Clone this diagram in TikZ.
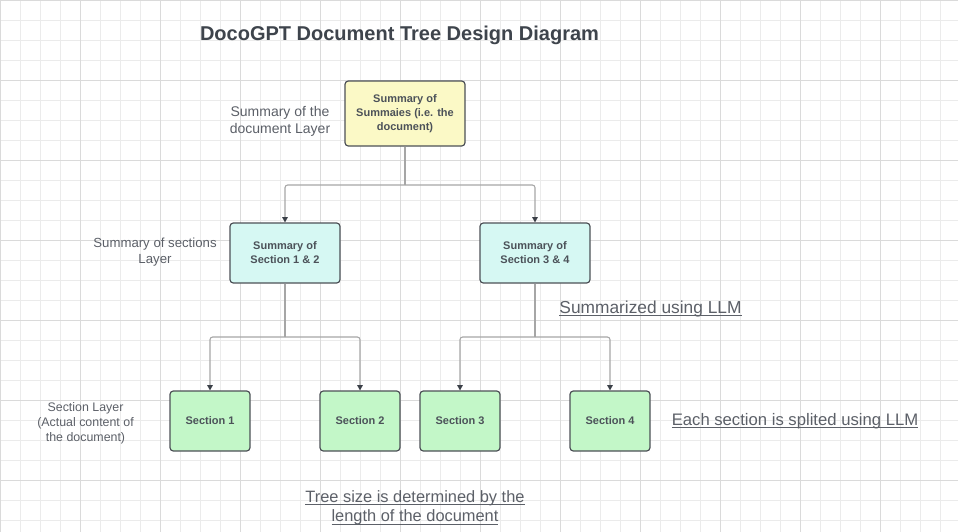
\documentclass[tikz,border=0pt]{standalone}
\usepackage{fontspec}
\setmainfont{Liberation Sans}
\usetikzlibrary{arrows.meta}
\definecolor{gridminor}{HTML}{EBEBEB}
\definecolor{gridmajor}{HTML}{DADADA}
\definecolor{boxline}{HTML}{4D5157}
\definecolor{yellowfill}{HTML}{FBF9C6}
\definecolor{cyanfill}{HTML}{D6F8F3}
\definecolor{greenfill}{HTML}{C3F7C8}
\definecolor{labeltext}{HTML}{5C6068}
\definecolor{boxtext}{HTML}{4C5259}
\definecolor{titletext}{HTML}{3E444C}
\definecolor{connline}{HTML}{A6A6A6}
\definecolor{arrowdark}{HTML}{3B4048}
\newcommand\myul[1]{\leavevmode\setbox0\hbox{#1}\rlap{\rule[-1.9pt]{\wd0}{0.75pt}}\box0}
\tikzset{
  treebox/.style={draw=boxline, line width=0.9pt, rounded corners=2.5pt, align=center,
    text=boxtext, font=\fontsize{8.25}{10.5}\selectfont\bfseries, inner sep=0pt},
  topbox/.style={treebox, fill=yellowfill, minimum width=90pt, minimum height=48.75pt},
  midbox/.style={treebox, fill=cyanfill, minimum width=82.5pt, minimum height=45pt},
  secbox/.style={treebox, fill=greenfill, minimum width=60pt, minimum height=45pt},
  layerlabel/.style={text=labeltext, align=center, inner sep=0pt},
  notelabel/.style={text=labeltext, align=center, inner sep=0pt},
  conn/.style={draw=connline, line width=0.8pt, rounded corners=2pt,
    -{Triangle[length=4pt,width=4.2pt,color=arrowdark]}},
  connplain/.style={draw=connline, line width=0.8pt, rounded corners=2pt}
}
\begin{document}
\begin{tikzpicture}[x=0.75pt,y=-0.75pt]
\useasboundingbox (0,0) rectangle (958,532);
\fill[white] (0,0) rectangle (958,532);
% grid
\foreach \gx in {0,20,...,940} {\draw[gridminor, line width=0.6pt] (\gx,0) -- (\gx,532);}
\foreach \gy in {0,20,...,520} {\draw[gridminor, line width=0.6pt] (0,\gy) -- (958,\gy);}
\foreach \gx in {0,80,...,880} {\draw[gridmajor, line width=0.7pt] (\gx,0) -- (\gx,532);}
\foreach \gy in {0,80,...,480} {\draw[gridmajor, line width=0.7pt] (0,\gy) -- (958,\gy);}

% title
\node[text=titletext, font=\fontsize{15}{18}\selectfont\bfseries, inner sep=0pt] (title) at (399.5,35) {DocoGPT Document Tree Design Diagram};

% nodes
\node[topbox] (top) at (405,113.5) {Summary of\\Summaies (i.e. the\\document)};
\node[midbox] (m1) at (285,253) {Summary of\\Section 1 \& 2};
\node[midbox] (m2) at (535,253) {Summary of\\Section 3 \& 4};
\node[secbox] (s1) at (210,421) {Section 1};
\node[secbox] (s2) at (360,421) {Section 2};
\node[secbox] (s3) at (460,421) {Section 3};
\node[secbox] (s4) at (610,421) {Section 4};

% layer labels
\node[layerlabel, font=\fontsize{10.5}{12.75}\selectfont] (l1) at (280,121) {Summary of the\\document Layer};
\node[layerlabel, font=\fontsize{9.9}{12}\selectfont] (l2) at (155,252) {Summary of sections\\Layer};
\node[layerlabel, font=\fontsize{9.3}{11.3}\selectfont] (l3) at (85.5,423) {Section Layer\\(Actual content of\\the document)};

% notes
\node[notelabel, font=\fontsize{13}{15}\selectfont, anchor=base] (n1) at (650.5,313) {\myul{Summarized using LLM}};
\node[notelabel, font=\fontsize{12.5}{15}\selectfont, anchor=base] (n2) at (795,425) {\myul{Each section is splited using LLM}};
\node[notelabel, font=\fontsize{12.3}{14.6}\selectfont] (n3) at (415,508) {\myul{Tree size is determined by the}\\\myul{length of the document}};

% connectors
\coordinate (j1) at (405,185);
\coordinate (j2) at (285,337);
\coordinate (j3) at (535,337);
\draw[connplain] (top.south) -- (j1);
\draw[conn] (j1) -| (m1.north);
\draw[conn] (j1) -| (m2.north);
\draw[connplain] (m1.south) -- (j2);
\draw[conn] (j2) -| (s1.north);
\draw[conn] (j2) -| (s2.north);
\draw[connplain] (m2.south) -- (j3);
\draw[conn] (j3) -| (s3.north);
\draw[conn] (j3) -| (s4.north);
\end{tikzpicture}
\end{document}
